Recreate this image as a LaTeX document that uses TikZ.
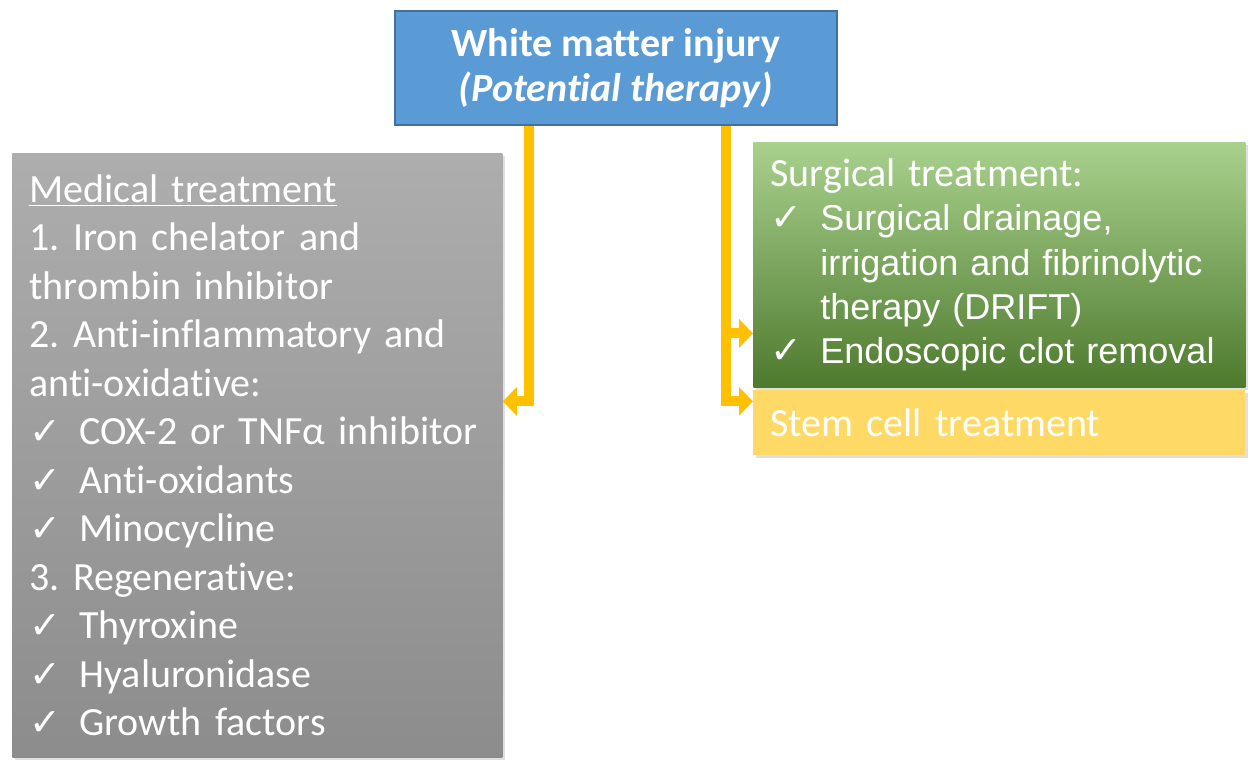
\documentclass[tikz,border=0pt]{standalone}
\usepackage{fontspec}
\setmainfont{Carlito}[Ligatures={NoCommon}]
\newfontfamily\arialfont{Liberation Sans}[Ligatures={NoCommon}]
\newfontfamily\tickfont{DejaVu Sans}
\usetikzlibrary{positioning, shadows, arrows.meta}
\frenchspacing
\definecolor{root blue}{HTML}{5B9BD5}
\definecolor{root edge}{HTML}{41719C}
\definecolor{feed orange}{HTML}{FFC000}
\definecolor{stem yellow}{HTML}{FFD966}
\definecolor{surg top}{RGB}{169,209,142}
\definecolor{surg mid}{RGB}{112,173,71}
\definecolor{surg bottom}{RGB}{78,122,46}
\newcommand{\tick}{\makebox[25pt][l]{\tickfont\fontsize{19}{20}\selectfont ✓}}
\newcommand{\indentline}{\hspace*{25pt}}
\tikzset{treatbox/.style={anchor=north west, inner ysep=0pt, align=left, text=white,
    drop shadow={shadow xshift=1.2pt, shadow yshift=-1.5pt, opacity=0.25}}}
\tikzset{feed/.style={line width=5pt, feed orange, -{Triangle[width=14pt, length=7pt]}}}

\begin{document}
\begin{tikzpicture}[x=0.5pt, y=-0.5pt]
    \useasboundingbox (0,0) rectangle (1253,760);

    \node[treatbox, top color=black!32, bottom color=black!45, minimum width=245pt, minimum height=302pt,
          text width=228pt, inner xsep=8.5pt, font={\fontsize{20}{24.25}\selectfont}]
          (medical) at (12,153) {\underline{Medical treatment}\\
        1. Iron chelator and\\
        thrombin inhibitor\\
        2. Anti-inflammatory and\\
        anti-oxidative:\\
        \tick COX-2 or TNFα inhibitor\\
        \tick Anti-oxidants\\
        \tick Minocycline\\
        3. Regenerative:\\
        \tick Thyroxine\\
        \tick Hyaluronidase\\
        \tick Growth factors};

    \node[treatbox, top color=surg top, middle color=surg mid, bottom color=surg bottom,
          minimum width=246pt, minimum height=122.5pt, text width=229pt, inner xsep=8.5pt,
          font={\arialfont\fontsize{18}{22.2}\selectfont}]
          (surgical) at (753,142) {{\rmfamily\fontsize{20}{22}\selectfont Surgical treatment:}\\
        \tick Surgical drainage,\\
        \indentline irrigation and fibrinolytic\\
        \indentline therapy (DRIFT)\\
        \tick Endoscopic clot removal};

    \node[treatbox, fill=stem yellow, minimum width=246pt, minimum height=32.5pt, text width=229pt,
          inner xsep=8.5pt, font={\fontsize{20}{24}\selectfont}]
          (stem) at (753,390) {Stem cell treatment};

    \node[anchor=north west, fill=root blue, draw=root edge, line width=0.8pt, text=white,
          minimum width=221pt, minimum height=57pt, align=center,
          font={\bfseries\fontsize{20}{22.5}\selectfont}]
          (injury) at (394,10) {White matter injury\\\textit{(Potential therapy)}};

    % connectors
    \coordinate (leftdrop) at ([xshift=-43.5pt]injury.south);
    \coordinate (rightdrop) at ([xshift=55pt]injury.south);
    \coordinate (fork) at ([yshift=-34.25pt]surgical.west);
    \draw[feed] (leftdrop) |- ([yshift=27pt]medical.east);
    \draw[feed] (rightdrop) |- ([yshift=10.75pt]stem.west);
    \draw[feed] (rightdrop |- fork) -- (fork);
\end{tikzpicture}
\end{document}
